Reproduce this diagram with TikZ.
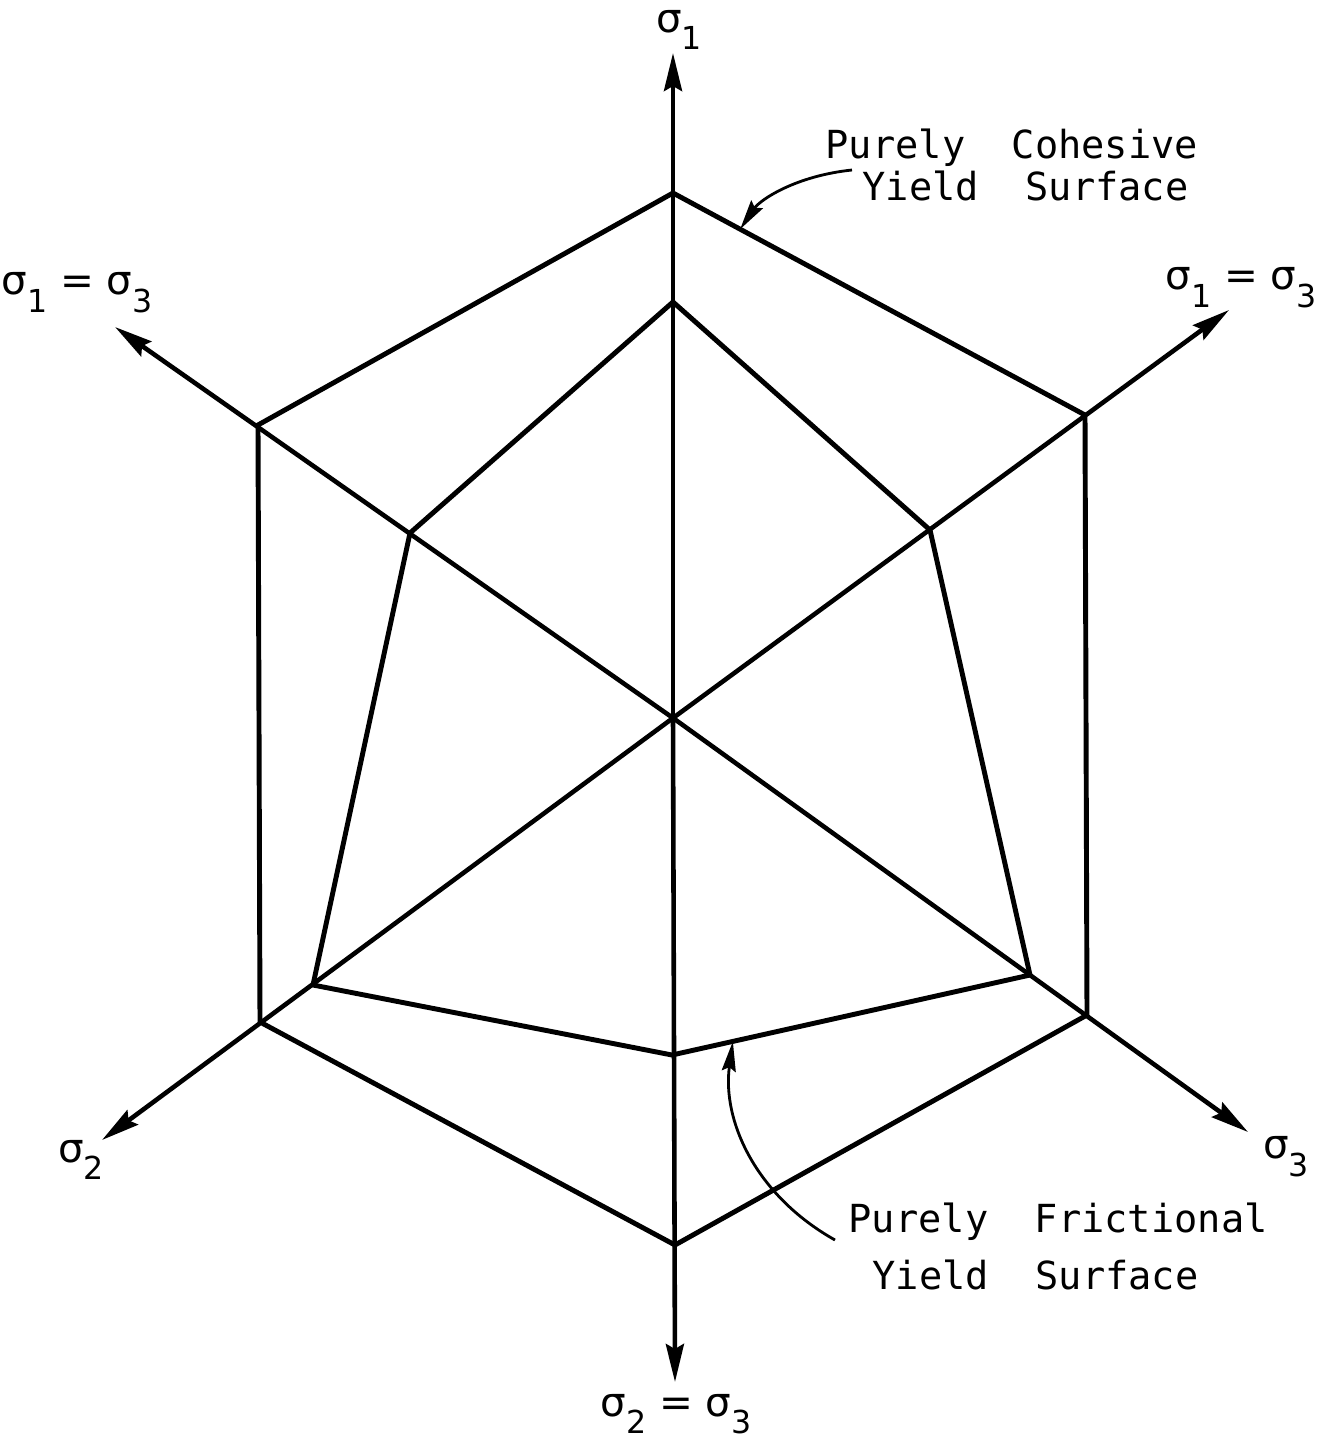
\documentclass[tikz,border=0pt]{standalone}
\usepackage{fontspec}
\setmainfont{DejaVu Sans}
\newfontfamily\plotfont{DejaVu Sans Mono}
\usetikzlibrary{arrows.meta,calc}
\newcommand{\sig}[1]{σ\raisebox{-0.8ex}{\fontsize{9}{10}\selectfont #1}}
\tikzset{
  axis/.style={-{Stealth[length=3.8mm,width=1.8mm,inset=0.5mm]}, line width=1.3pt},
  surface/.style={line width=1.4pt, line join=miter},
  pointer/.style={-{Stealth[length=3mm,width=1.4mm,inset=0.4mm]}, line width=0.8pt},
  siglabel/.style={font=\fontsize{11.5}{13}\selectfont, inner sep=0pt},
  note/.style={font=\plotfont\fontsize{11}{13}\selectfont, inner sep=0pt, anchor=west}
}

\begin{document}
\begin{tikzpicture}[x=0.1mm, y=-0.1mm]
        \useasboundingbox (0,0) rectangle (1329,1439);
        % axes
        \coordinate (o) at (673,718);
        \coordinate (ntip) at (673,53);
        \coordinate (stip) at (675,1382);
        \coordinate (nwtip) at (115,327);
        \coordinate (setip) at (1248,1132);
        \coordinate (netip) at (1229,310);
        \coordinate (swtip) at (102,1140);
        \node[siglabel] (s1) at (679,30) {\sig{1}};
        \node[siglabel] (s23) at (676,1414) {\sig{2} = \sig{3}};
        \node[siglabel] (s13l) at (77,293) {\sig{1} = \sig{3}};
        \node[siglabel] (s13r) at (1241,288) {\sig{1} = \sig{3}};
        \node[siglabel] (s2) at (81,1160) {\sig{2}};
        \node[siglabel] (s3) at (1286,1157) {\sig{3}};
        \draw[axis] (o) -- (ntip);
        \draw[axis] (o) -- (stip);
        \draw[axis] (o) -- (nwtip);
        \draw[axis] (o) -- (setip);
        \draw[axis] (o) -- (netip);
        \draw[axis] (o) -- (swtip);
        % outer hexagon (cohesive)
        \coordinate (c1) at (673,193);
        \coordinate (c2) at (1085,415);
        \coordinate (c3) at (1087,1015);
        \coordinate (c4) at (675,1245);
        \coordinate (c5) at (260,1022);
        \coordinate (c6) at (258,425);
        \draw[surface] (c1) -- (c2) -- (c3) -- (c4) -- (c5) -- (c6) -- cycle;
        % inner surface (frictional)
        \coordinate (f1) at (673,302);
        \coordinate (f2) at (930,530);
        \coordinate (f3) at (1030,975);
        \coordinate (f4) at (672,1055);
        \coordinate (f5) at (313,985);
        \coordinate (f6) at (410,533);
        \draw[surface] (f1) -- (f2) -- (f3) -- (f4) -- (f5) -- (f6) -- cycle;
        % labels
        \node[note] (coh1) at (825,148) {Purely\ \ Cohesive};
        \node[note] (coh2) at (862,186) {Yield\ \ Surface};
        \node[note] (fri1) at (848,1222) {Purely\ \ Frictional};
        \node[note] (fri2) at (872,1275) {Yield\ \ Surface};
        \coordinate (cohstart) at (852,170);
        \coordinate (fristart) at (835,1240);
        \coordinate (cohend) at ($(c1)!0.163!(c2)$);
        \coordinate (friend) at ($(f4)!0.17!(f3)$);
        \draw[pointer] (cohstart) .. controls (795,176) and (760,200) .. (cohend);
        \draw[pointer] (fristart) .. controls (755,1195) and (722,1120) .. (friend);
\end{tikzpicture}
\end{document}
